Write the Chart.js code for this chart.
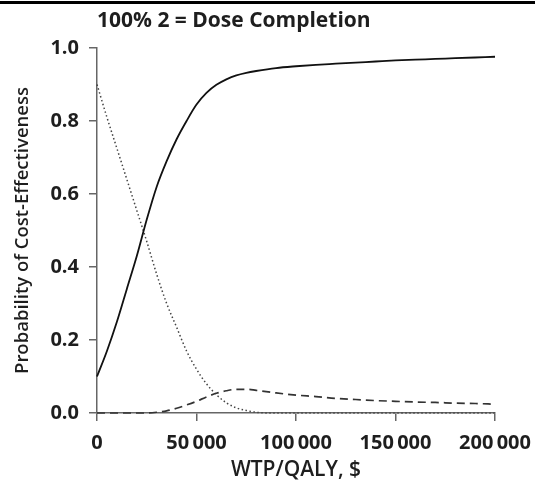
<!DOCTYPE html>
<html>
<head>
<meta charset="utf-8">
<script src="https://cdn.jsdelivr.net/npm/chart.js@4"></script>
<style>
  html, body { margin: 0; padding: 0; background: #fff; }
  canvas { display: block; }
</style>
</head>
<body>
<canvas id="ceac" width="535" height="483"></canvas>
<script>
// Willingness-to-pay thresholds (USD per QALY)
const wtp = [0, 5000, 10000, 15000, 20000, 25000, 30000, 35000, 40000, 45000,
             50000, 55000, 60000, 65000, 70000, 75000, 80000, 90000, 100000, 110000,
             120000, 130000, 140000, 150000, 160000, 170000, 180000, 190000, 200000];

// Probability each strategy is cost-effective at each threshold
const solidSeries = [0.10, 0.17, 0.25, 0.34, 0.43, 0.53, 0.62, 0.69, 0.75, 0.80,
                     0.845, 0.877, 0.899, 0.914, 0.925, 0.932, 0.937, 0.945, 0.950, 0.954,
                     0.957, 0.960, 0.963, 0.966, 0.968, 0.970, 0.972, 0.974, 0.976];
const dottedSeries = [0.90, 0.81, 0.725, 0.64, 0.555, 0.47, 0.38, 0.30, 0.235, 0.17,
                      0.12, 0.08, 0.05, 0.028, 0.014, 0.007, 0.002, 0, 0, 0,
                      0, 0, 0, 0, 0, 0, 0, 0, 0];
const dashedSeries = [0, 0, 0, 0, 0, 0, 0.002, 0.006, 0.013, 0.022,
                      0.032, 0.044, 0.054, 0.061, 0.065, 0.065, 0.062, 0.055, 0.049, 0.045,
                      0.040, 0.037, 0.034, 0.032, 0.030, 0.029, 0.027, 0.026, 0.024];

const xTicks = [0, 50000, 100000, 150000, 200000];
const yTicks = [0, 0.2, 0.4, 0.6, 0.8, 1.0];

const panelTitle = '100% 2 = Dose Completion';
const xTitle = 'WTP/QALY, $';
const yTitle = 'Probability of Cost-Effectiveness';

const FONT = "'Open Sans', 'DejaVu Sans', sans-serif";
const INK = '#1e1e1e';
const AXIS = '#666';

const pts = arr => arr.map((v, i) => ({ x: wtp[i], y: v }));

// Heavy rule across the top and the panel heading
const header = {
  id: 'header',
  afterDraw(chart) {
    const { ctx } = chart;
    ctx.save();
    ctx.fillStyle = '#000';
    ctx.fillRect(0, 1, chart.width, 3);
    ctx.font = `700 21px ${FONT}`;
    ctx.fillStyle = INK;
    ctx.textAlign = 'left';
    ctx.textBaseline = 'middle';
    ctx.fillText(panelTitle, 97, 21);
    ctx.restore();
  }
};

const line = (data, dash, width, color) => ({
  data: pts(data),
  borderColor: color,
  borderWidth: width,
  borderDash: dash,
  pointRadius: 0,
  fill: false,
  cubicInterpolationMode: 'monotone',
  clip: 4
});

new Chart(document.getElementById('ceac'), {
  type: 'line',
  data: {
    datasets: [
      line(solidSeries, [], 1.8, '#111'),
      line(dashedSeries, [8, 5], 1.7, '#333'),
      line(dottedSeries, [1.5, 2.5], 1.5, '#444')
    ]
  },
  options: {
    responsive: false,
    animation: false,
    events: [],
    layout: { padding: { top: 48, right: 40, left: 0, bottom: 0 } },
    plugins: { legend: { display: false }, tooltip: { enabled: false }, title: { display: false } },
    scales: {
      x: {
        type: 'linear',
        min: 0,
        max: 200000,
        afterFit(s) { s.height = 70; s.paddingLeft = 0; s.paddingRight = 0; },
        afterBuildTicks(s) { s.ticks = xTicks.map(v => ({ value: v })); },
        ticks: {
          padding: 10,
          color: INK,
          maxRotation: 0,
          font: { family: FONT, size: 20, weight: '700' },
          callback: v => v === 0 ? '0' : String(v).replace(/\B(?=(\d{3})+(?!\d))/g, '\u2009')
        },
        grid: { drawOnChartArea: false, drawTicks: true, tickLength: 8, color: AXIS, lineWidth: 1.5 },
        border: { display: true, color: AXIS, width: 1.5 },
        title: {
          display: true,
          text: xTitle,
          color: INK,
          font: { family: FONT, size: 21, weight: '600' },
          padding: { top: 0, bottom: 0 }
        }
      },
      y: {
        min: 0,
        max: 1,
        afterFit(s) { s.width = 97; },
        afterBuildTicks(s) { s.ticks = yTicks.map(v => ({ value: v })); },
        ticks: {
          padding: 10,
          color: INK,
          font: { family: FONT, size: 20, weight: '700' },
          callback: v => Number(v).toFixed(1)
        },
        grid: { drawOnChartArea: false, drawTicks: true, tickLength: 8, color: AXIS, lineWidth: 1.5 },
        border: { display: true, color: AXIS, width: 1.5 },
        title: {
          display: true,
          text: yTitle,
          color: INK,
          font: { family: FONT, size: 18.5, weight: '600' },
          padding: { top: 12, bottom: 0 }
        }
      }
    }
  },
  plugins: [header]
});
</script>
</body>
</html>
